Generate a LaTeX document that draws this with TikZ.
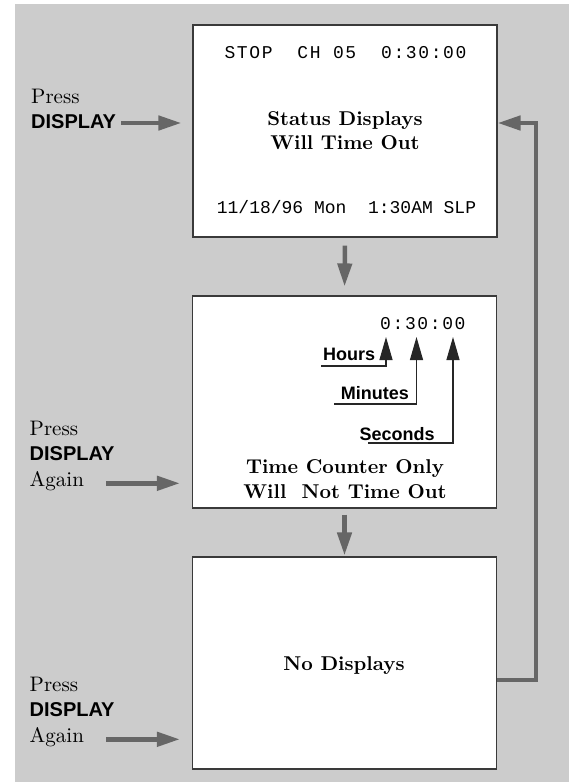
\documentclass[tikz,border=0pt]{standalone}
\usepackage{fontspec}
\usepackage{tikz}
\usepackage{xcolor}
\usetikzlibrary{arrows.meta}
\setmainfont{lmroman10-regular}[Extension=.otf,BoldFont=lmroman10-bold]
\newfontfamily\lcdfont{Liberation Mono}
\newfontfamily\lcdwide[LetterSpace=9]{Liberation Mono}
\newfontfamily\keyfont{Liberation Sans}
\newcommand{\keyname}{{\fontsize{20}{25.5}\selectfont\keyfont\bfseries DISPLAY}}
\definecolor{panel}{HTML}{CCCCCC}
\definecolor{flowgray}{HTML}{666666}
\definecolor{frame}{HTML}{3A3A3A}

\begin{document}
\begin{tikzpicture}[x=1pt,y=-1pt,
    screen/.style={draw=frame,line width=1.1pt,fill=white,minimum width=304pt,minimum height=212pt,inner sep=0pt},
    flow/.style={draw=flowgray,line width=4.5pt,-{Triangle[length=23pt,width=14pt]}},
    pointer/.style={draw=black!85,line width=1.1pt,-{Triangle[length=23pt,width=13pt]}},
    caption/.style={font=\fontsize{20}{24.5}\selectfont\bfseries,align=center,inner sep=0pt},
    lcd/.style={font=\fontsize{18}{20}\selectfont\lcdwide,inner sep=0pt},
    lcdplain/.style={font=\fontsize{18}{20}\selectfont\lcdfont,inner sep=0pt},
    press/.style={font=\fontsize{21}{25.5}\selectfont,align=left,anchor=north west,inner sep=0pt},
    unit/.style={font=\fontsize{18}{20}\selectfont\keyfont\bfseries,anchor=base west,inner sep=0pt}]
        \useasboundingbox (0,0) rectangle (572,782);
        \fill[panel] (15,4) rectangle (569,782);

        \node[screen] (scr1) at (345,131) {};
        \node[screen] (scr2) at (344.5,402) {};
        \node[screen] (scr3) at (344.5,663) {};

        \node[lcd,anchor=base] (status) at (345.5,58.3) {STOP~~CH~05~~0:30:00};
        \node[caption] (msg1) at (345,130.5) {Status Displays\\Will Time Out};
        \node[lcdplain,anchor=base] (date) at (346.5,213.3) {11/18/96 Mon~~1:30AM SLP};

        \node[lcd,anchor=base west] (clock) at (380,329) {0:30:00};
        \node[unit] (hrs) at (323,360) {Hours};
        \node[unit] (mins) at (340.7,399.3) {Minutes};
        \node[unit] (secs) at (359.3,440) {Seconds};
        \node[caption] (msg2) at (345,479) {Time Counter Only\\Will~~Not Time Out};

        \node[caption,anchor=base] (msg3) at (344,670.7) {No Displays};

        \node[press] (key1) at (31,88.5) {Press\\\keyname};
        \node[press] (key2) at (29.5,420.5) {Press\\\keyname\\Again};
        \node[press] (key3) at (29.5,676.7) {Press\\\keyname\\Again};

        \coordinate (in1) at (121,123);
        \coordinate (in2) at (106,483.3);
        \coordinate (in3) at (106,739.3);
        \coordinate (back1) at (536,680);
        \coordinate (back2) at (536,123);
        \coordinate (hrsT) at (386,337);
        \coordinate (minsT) at (416.5,337);
        \coordinate (secsT) at (453,337);
        \coordinate (hrsE) at (321,366);
        \coordinate (minsE) at (334,404);
        \coordinate (secsE) at (368,443);

        \draw[flow,shorten >=11pt] (in1) to (in1 -| scr1.west);
        \draw[flow,shorten >=12pt] (in2) to (in2 -| scr2.west);
        \draw[flow,shorten >=12pt] (in3) to (in3 -| scr3.west);
        \draw[flow,shorten <=8pt,shorten >=9pt] (scr1.south) to (scr2.north);
        \draw[flow,shorten <=6pt,shorten >=1pt] (scr2.south) to (scr3.north);
        \draw[flow] (scr3.east |- back1) -- (back1) -- (back2) -- (scr1.east |- back2);

        \draw[pointer] (hrsE) -- (hrsT |- hrsE) -- (hrsT);
        \draw[pointer] (minsE) -- (minsT |- minsE) -- (minsT);
        \draw[pointer] (secsE) -- (secsT |- secsE) -- (secsT);
\end{tikzpicture}
\end{document}
